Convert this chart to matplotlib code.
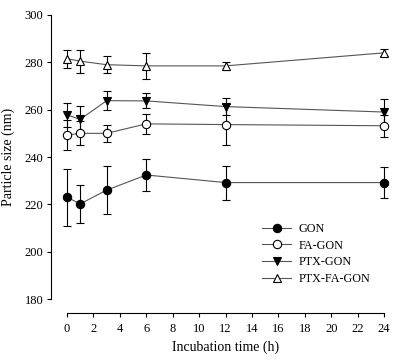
import matplotlib.pyplot as plt
import matplotlib.transforms as mtransforms
import numpy as np

plt.rcParams['font.family'] = ['Liberation Serif', 'DejaVu Serif']

hours = [0, 1, 3, 6, 12, 24]

gon = [223.0, 220.2, 226.0, 232.4, 229.2, 229.2]
gon_err = [12.0, 8.0, 10.2, 6.8, 7.2, 6.7]
fa_gon = [249.3, 250.0, 250.0, 254.0, 253.7, 253.2]
fa_gon_err = [6.2, 5.0, 3.7, 4.3, 8.5, 4.6]
ptx_gon = [257.8, 255.9, 263.8, 263.7, 261.3, 259.0]
ptx_gon_err = [5.0, 5.5, 4.0, 3.2, 3.5, 5.6]
ptx_fa_gon = [281.5, 280.5, 279.0, 278.5, 278.5, 284.0]
ptx_fa_gon_err = [3.8, 4.8, 3.5, 5.5, 1.7, 1.5]

fig = plt.figure(figsize=(4, 3.62), dpi=100)
ax = fig.add_axes([0.1275, 0.1354, 0.86, 0.8232])

series = [
    (gon, gon_err, "GON", "o", "black"),
    (fa_gon, fa_gon_err, "FA-GON", "o", "white"),
    (ptx_gon, ptx_gon_err, "PTX-GON", "v", "black"),
    (ptx_fa_gon, ptx_fa_gon_err, "PTX-FA-GON", "^", "white"),
]
for y, e, name, m, fc in series:
    ax.errorbar(hours, y, yerr=e, fmt="none", ecolor="black", elinewidth=0.8,
                capsize=3, capthick=0.8, zorder=2)
    ax.plot(hours, y, color="#555555", lw=0.8, marker=m, ms=6,
            mfc=fc, mec="black", mew=0.8, label=name, zorder=3)

ax.set_xlim(-1.21, 24.83)
ax.set_ylim(174.1, 300)
ax.spines['top'].set_visible(False)
ax.spines['right'].set_visible(False)
ax.spines['left'].set_bounds(180, 300)
ax.spines['bottom'].set_bounds(0, 24)
for s in ('left', 'bottom'):
    ax.spines[s].set_linewidth(0.8)

ax.set_xticks(np.arange(0, 25, 2))
ax.set_yticks(np.arange(180, 301, 20))
ax.tick_params(labelsize=9, length=3, width=0.8, direction="out", pad=2.5)
ax.tick_params(axis="x", pad=4)
ax.set_xlabel("Incubation time (h)", fontsize=10)
ax.set_ylabel("Particle size (nm)", fontsize=10)
# labels centred on the trimmed spines, as in the original
ax.xaxis.set_label_coords(12, -0.093,
                          transform=mtransforms.blended_transform_factory(ax.transData, ax.transAxes))
ax.yaxis.set_label_coords(-0.105, 240,
                          transform=mtransforms.blended_transform_factory(ax.transAxes, ax.transData))

ax.legend(loc="upper left", bbox_to_anchor=(262 / 400, 1 - 223 / 362),
          bbox_transform=fig.transFigure, frameon=False, borderpad=0,
          borderaxespad=0, fontsize=8.7, handlelength=2.4,
          labelspacing=0.38, handletextpad=0.6)

fig.savefig("out.png", dpi=100)
